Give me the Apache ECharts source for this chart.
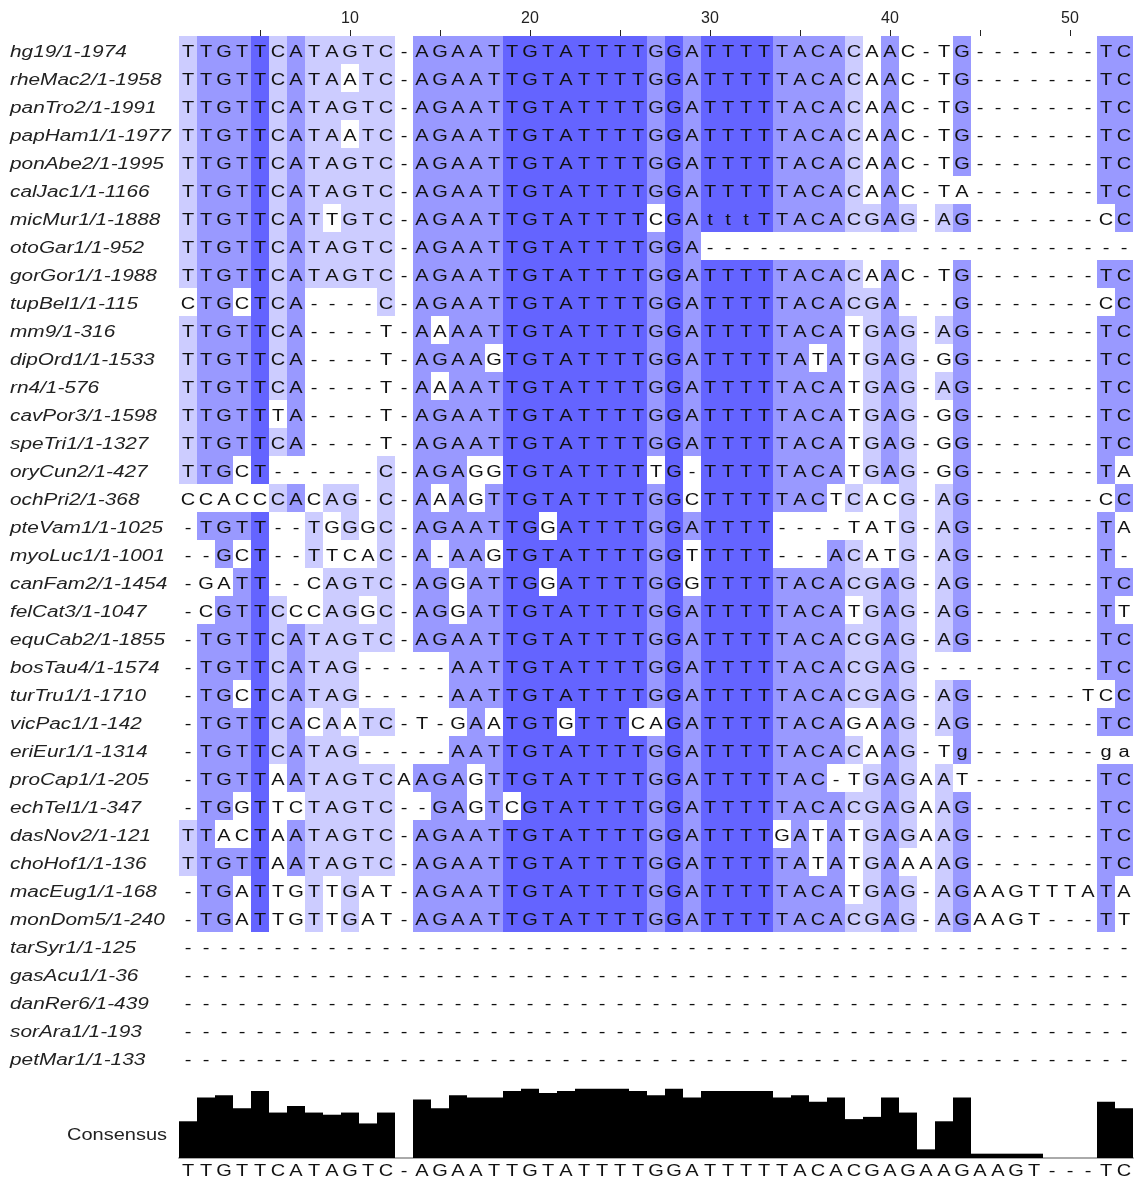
<!DOCTYPE html>
<html>
<head>
<meta charset="utf-8">
<title>Alignment</title>
<script src="https://cdn.jsdelivr.net/npm/echarts@6/dist/echarts.min.js"></script>
<style>
  html, body { margin: 0; padding: 0; background: #fff; }
  #chart { width: 1134px; height: 1184px; }
</style>
</head>
<body>
<div id="chart"></div>
<script>
// sequence ids, top to bottom
const seqNames = [
  'hg19/1-1974', 'rheMac2/1-1958', 'panTro2/1-1991', 'papHam1/1-1977', 'ponAbe2/1-1995',
  'calJac1/1-1166', 'micMur1/1-1888', 'otoGar1/1-952', 'gorGor1/1-1988', 'tupBel1/1-115',
  'mm9/1-316', 'dipOrd1/1-1533', 'rn4/1-576', 'cavPor3/1-1598', 'speTri1/1-1327',
  'oryCun2/1-427', 'ochPri2/1-368', 'pteVam1/1-1025', 'myoLuc1/1-1001', 'canFam2/1-1454',
  'felCat3/1-1047', 'equCab2/1-1855', 'bosTau4/1-1574', 'turTru1/1-1710', 'vicPac1/1-142',
  'eriEur1/1-1314', 'proCap1/1-205', 'echTel1/1-347', 'dasNov2/1-121', 'choHof1/1-136',
  'macEug1/1-168', 'monDom5/1-240', 'tarSyr1/1-125', 'gasAcu1/1-36', 'danRer6/1-439',
  'sorAra1/1-193', 'petMar1/1-133'
]

// aligned residues (53 columns each)
const sequences = [
  'TTGTTCATAGTC-AGAATTGTATTTTGGATTTTTACACAAC-TG-------TC',
  'TTGTTCATAATC-AGAATTGTATTTTGGATTTTTACACAAC-TG-------TC',
  'TTGTTCATAGTC-AGAATTGTATTTTGGATTTTTACACAAC-TG-------TC',
  'TTGTTCATAATC-AGAATTGTATTTTGGATTTTTACACAAC-TG-------TC',
  'TTGTTCATAGTC-AGAATTGTATTTTGGATTTTTACACAAC-TG-------TC',
  'TTGTTCATAGTC-AGAATTGTATTTTGGATTTTTACACAAC-TA-------TC',
  'TTGTTCATTGTC-AGAATTGTATTTTCGAtttTTACACGAG-AG-------CC',
  'TTGTTCATAGTC-AGAATTGTATTTTGGA------------------------',
  'TTGTTCATAGTC-AGAATTGTATTTTGGATTTTTACACAAC-TG-------TC',
  'CTGCTCA----C-AGAATTGTATTTTGGATTTTTACACGA---G-------CC',
  'TTGTTCA----T-AAAATTGTATTTTGGATTTTTACATGAG-AG-------TC',
  'TTGTTCA----T-AGAAGTGTATTTTGGATTTTTATATGAG-GG-------TC',
  'TTGTTCA----T-AAAATTGTATTTTGGATTTTTACATGAG-AG-------TC',
  'TTGTTTA----T-AGAATTGTATTTTGGATTTTTACATGAG-GG-------TC',
  'TTGTTCA----T-AGAATTGTATTTTGGATTTTTACATGAG-GG-------TC',
  'TTGCT------C-AGAGGTGTATTTTTG-TTTTTACATGAG-GG-------TA',
  'CCACCCACAG-C-AAAGTTGTATTTTGGCTTTTTACTCACG-AG-------CC',
  '-TGTT--TGGGC-AGAATTGGATTTTGGATTTT----TATG-AG-------TA',
  '--GCT--TTCAC-A-AAGTGTATTTTGGTTTTT---ACATG-AG-------T-',
  '-GATT--CAGTC-AGGATTGGATTTTGGGTTTTTACACGAG-AG-------TC',
  '-CGTTCCCAGGC-AGGATTGTATTTTGGATTTTTACATGAG-AG-------TT',
  '-TGTTCATAGTC-AGAATTGTATTTTGGATTTTTACACGAG-AG-------TC',
  '-TGTTCATAG-----AATTGTATTTTGGATTTTTACACGAG----------TC',
  '-TGCTCATAG-----AATTGTATTTTGGATTTTTACACGAG-AG------TCC',
  '-TGTTCACAATC-T-GAATGTGTTTCAGATTTTTACAGAAG-AG-------TC',
  '-TGTTCATAG-----AATTGTATTTTGGATTTTTACACAAG-Tg-------ga',
  '-TGTTAATAGTCAAGAGTTGTATTTTGGATTTTTAC-TGAGAAT-------TC',
  '-TGGTTCTAGTC--GAGTCGTATTTTGGATTTTTACACGAGAAG-------TC',
  'TTACTAATAGTC-AGAATTGTATTTTGGATTTTGATATGAGAAG-------TC',
  'TTGTTAATAGTC-AGAATTGTATTTTGGATTTTTATATGAAAAG-------TC',
  '-TGATTGTTGAT-AGAATTGTATTTTGGATTTTTACATGAG-AGAAGTTTATA',
  '-TGATTGTTGAT-AGAATTGTATTTTGGATTTTTACACGAG-AGAAGT---TT',
  '-----------------------------------------------------',
  '-----------------------------------------------------',
  '-----------------------------------------------------',
  '-----------------------------------------------------',
  '-----------------------------------------------------'
]

// consensus residue per column and its percent identity (histogram)
const consensusSeq = 'TTGTTCATAGTC-AGAATTGTATTTTGGATTTTTACACGAGAAGAAGT---TC'
const consensusPct = [
  45.9, 75.7, 78.4, 62.2, 83.8, 56.8, 64.9, 56.8, 54.1, 56.8,
  43.2, 56.8, 0, 73.0, 62.2, 78.4, 75.7, 75.7, 83.8, 86.5,
  81.1, 83.8, 86.5, 86.5, 86.5, 83.8, 78.4, 86.5, 75.7, 83.8,
  83.8, 83.8, 83.8, 75.7, 78.4, 70.3, 75.7, 48.6, 51.4, 75.7,
  56.8, 10.8, 45.9, 75.7, 5.4, 5.4, 5.4, 5.4, 0, 0,
  0, 70.3, 62.2
]

const columns = consensusSeq.split('').map((_, i) => String(i + 1))

// percent identity colours: none / >40 / >60 / >80
const pidColours = ['#ffffff', '#ccccff', '#9999ff', '#6464ff']
const pidLevel = (p) => (p > 80 ? 3 : p > 60 ? 2 : p > 40 ? 1 : 0)

const CELL_FONT = '16px "Liberation Sans", Arial, sans-serif'
const ID_FONT = 'italic 16px "Liberation Sans", Arial, sans-serif'
const STRETCH = 1.25

const cellData = []
sequences.forEach((seq, r) => {
  for (let c = 0; c < columns.length; c++) {
    const ch = (seq[c] || '-').toUpperCase()
    const level = ch !== '-' && ch === consensusSeq[c] ? pidLevel(consensusPct[c]) : 0
    cellData.push([c, r, level])
  }
})

const chart = echarts.init(document.getElementById('chart'))

chart.setOption({
  animation: false,
  backgroundColor: '#fff',
  grid: [
    { left: 179, top: 36, width: 954, height: 1036 },
    { left: 179, top: 1078, width: 954, height: 80 }
  ],
  xAxis: [
    {
      gridIndex: 0,
      type: 'category',
      position: 'top',
      data: columns,
      axisLine: { show: false },
      axisTick: {
        show: true,
        alignWithLabel: true,
        length: 6,
        interval: (i) => (i + 1) % 5 === 0,
        lineStyle: { color: '#222' }
      },
      axisLabel: {
        interval: (i) => (i + 1) % 10 === 0,
        margin: 9,
        color: '#222',
        fontSize: 16,
        fontFamily: '"Liberation Sans", Arial, sans-serif'
      },
      splitLine: { show: false }
    },
    {
      gridIndex: 1,
      type: 'category',
      data: columns,
      axisLine: { show: true, lineStyle: { color: '#aaa', width: 2 } },
      axisTick: { show: false },
      axisLabel: { show: false }
    }
  ],
  yAxis: [
    { gridIndex: 0, type: 'category', data: seqNames, inverse: true, show: false },
    { gridIndex: 1, type: 'value', min: 0, max: 100, show: false }
  ],
  graphic: [
    {
      type: 'text',
      x: 167,
      y: 1136,
      scaleX: STRETCH,
      style: {
        text: 'Consensus',
        font: CELL_FONT,
        fill: '#222',
        align: 'right',
        verticalAlign: 'middle',
        textAlign: 'right',
        textVerticalAlign: 'middle'
      }
    }
  ],
  series: [
    {
      name: 'alignment',
      type: 'custom',
      xAxisIndex: 0,
      yAxisIndex: 0,
      data: cellData,
      renderItem: (params, api) => {
        const c = api.value(0)
        const r = api.value(1)
        const level = api.value(2)
        const pt = api.coord([c, r])
        const size = api.size([1, 1])
        const children = []
        if (level > 0) {
          children.push({
            type: 'rect',
            shape: {
              x: pt[0] - size[0] / 2,
              y: pt[1] - size[1] / 2,
              width: size[0],
              height: size[1]
            },
            style: { fill: pidColours[level] }
          })
        }
        children.push({
          type: 'text',
          x: pt[0],
          y: pt[1] + 3,
          scaleX: STRETCH,
          style: {
            text: sequences[r][c] || '-',
            font: CELL_FONT,
            fill: '#111',
            align: 'center',
            verticalAlign: 'middle',
            textAlign: 'center',
            textVerticalAlign: 'middle'
          }
        })
        return { type: 'group', children }
      }
    },
    {
      // sequence ids drawn left of the grid
      name: 'ids',
      type: 'custom',
      xAxisIndex: 0,
      yAxisIndex: 0,
      clip: false,
      data: seqNames.map((_, i) => [0, i]),
      renderItem: (params, api) => {
        const pt = api.coord([0, api.value(1)])
        return {
          type: 'text',
          x: 10,
          y: pt[1] + 3,
          scaleX: 1.3,
          style: {
            text: seqNames[params.dataIndex],
            font: ID_FONT,
            fill: '#222',
            align: 'left',
            verticalAlign: 'middle',
            textAlign: 'left',
            textVerticalAlign: 'middle'
          }
        }
      }
    },
    {
      name: 'consensus',
      type: 'bar',
      xAxisIndex: 1,
      yAxisIndex: 1,
      barCategoryGap: '0%',
      itemStyle: { color: '#000' },
      data: consensusPct
    },
    {
      // consensus letters under the histogram
      name: 'consensusSeq',
      type: 'custom',
      xAxisIndex: 1,
      yAxisIndex: 1,
      clip: false,
      data: columns.map((_, i) => [i, 0]),
      renderItem: (params, api) => {
        const pt = api.coord([api.value(0), 0])
        return {
          type: 'text',
          x: pt[0],
          y: pt[1] + 14,
          scaleX: STRETCH,
          style: {
            text: consensusSeq[params.dataIndex],
            font: CELL_FONT,
            fill: '#111',
            align: 'center',
            verticalAlign: 'middle',
            textAlign: 'center',
            textVerticalAlign: 'middle'
          }
        }
      }
    }
  ]
})

window.addEventListener('resize', () => chart.resize())
</script>
</body>
</html>
